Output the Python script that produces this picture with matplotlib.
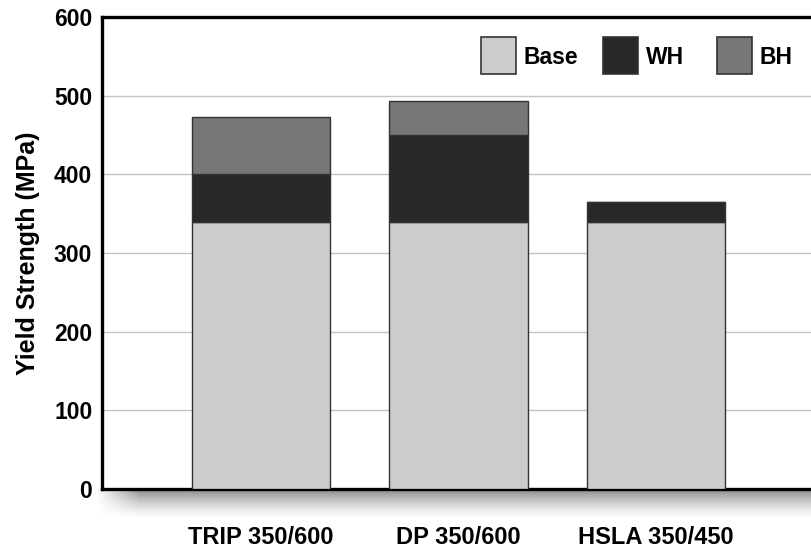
import numpy as np
import matplotlib
matplotlib.use("Agg")
import matplotlib.pyplot as plt
from matplotlib.patches import Rectangle

steels = ["TRIP 350/600", "DP 350/600", "HSLA 350/450"]
base = [340, 340, 340]
wh = [60, 110, 25]
bh = [73, 43, 0]

names = ["Base", "WH", "BH"]
colors = ["#cccccc", "#282828", "#777777"]

plt.rcParams["font.family"] = ["Liberation Sans", "DejaVu Sans"]
plt.rcParams["font.weight"] = "bold"

W, H = 812, 550
fig = plt.figure(figsize=(W / 100, H / 100), dpi=100)

# axes box in pixel terms; right edge runs off the canvas
left, bottom, top = 102, 489, 17
ax = fig.add_axes([left / W, (H - bottom) / H, (W - left + 8) / W, (bottom - top) / H])

# soft drop shadow under the bottom spine
sh = fig.add_axes([(left - 6) / W, (H - bottom - 30) / H, (W - left + 6) / W, 30 / H], zorder=0)
ny, nx = 60, 400
yy = np.linspace(0, 1, ny)[:, None]
xx = np.linspace(0, 1, nx)[None, :]
fade_y = np.clip(1 - yy, 0, 1) ** 1.4
fade_x = np.clip(xx / 0.06, 0, 1)
rgba = np.zeros((ny, nx, 4))
rgba[..., :3] = 0.3
rgba[..., 3] = 0.65 * fade_y * fade_x
sh.imshow(rgba, aspect="auto", extent=(0, 1, 0, 1), origin="upper")
sh.axis("off")
ax.set_zorder(1)

x = np.arange(len(steels))
w = 0.7
edge = "#333333"
ax.bar(x, base, w, color=colors[0], edgecolor=edge, linewidth=1, zorder=3)
ax.bar(x, wh, w, bottom=base, color=colors[1], edgecolor=edge, linewidth=1, zorder=3)
b2 = [b + h for b, h in zip(base, wh)]
ax.bar(x, bh, w, bottom=b2, color=colors[2], edgecolor=edge, linewidth=1, zorder=3)

ax.set_ylim(0, 600)
ax.set_yticks(range(0, 601, 100))
ax.set_xlim(-0.805, -0.805 + (W - left + 8) / 197.5)
ax.set_xticks(x)
ax.set_xticklabels(steels, fontsize=17)
ax.tick_params(axis="y", length=0, pad=7, labelsize=16.5)
ax.tick_params(axis="x", length=0, pad=27)
ax.yaxis.grid(True, color="#c4c4c4", linewidth=1, zorder=0)
ax.set_axisbelow(True)

for side in ["left", "bottom", "top"]:
    ax.spines[side].set_linewidth(2.4)
    ax.spines[side].set_color("black")
ax.spines["right"].set_visible(False)

fig.text(28 / W, 1 - 253 / H, "Yield Strength (MPa)", rotation=90,
         ha="center", va="center", fontsize=18, fontweight="bold")

# legend: square swatches with labels, laid out in a row
key_x = [481, 603, 717]
for kx, name, c in zip(key_x, names, colors):
    fig.patches.append(Rectangle((kx / W, 1 - 74 / H), 35 / W, 37 / H,
                                 transform=fig.transFigure, facecolor=c,
                                 edgecolor=edge, linewidth=1.2, zorder=5))
    fig.text((kx + 43) / W, 1 - 57 / H, name, ha="left", va="center",
             fontsize=16.5, fontweight="bold", zorder=5)

fig.savefig("out.png", dpi=100)
